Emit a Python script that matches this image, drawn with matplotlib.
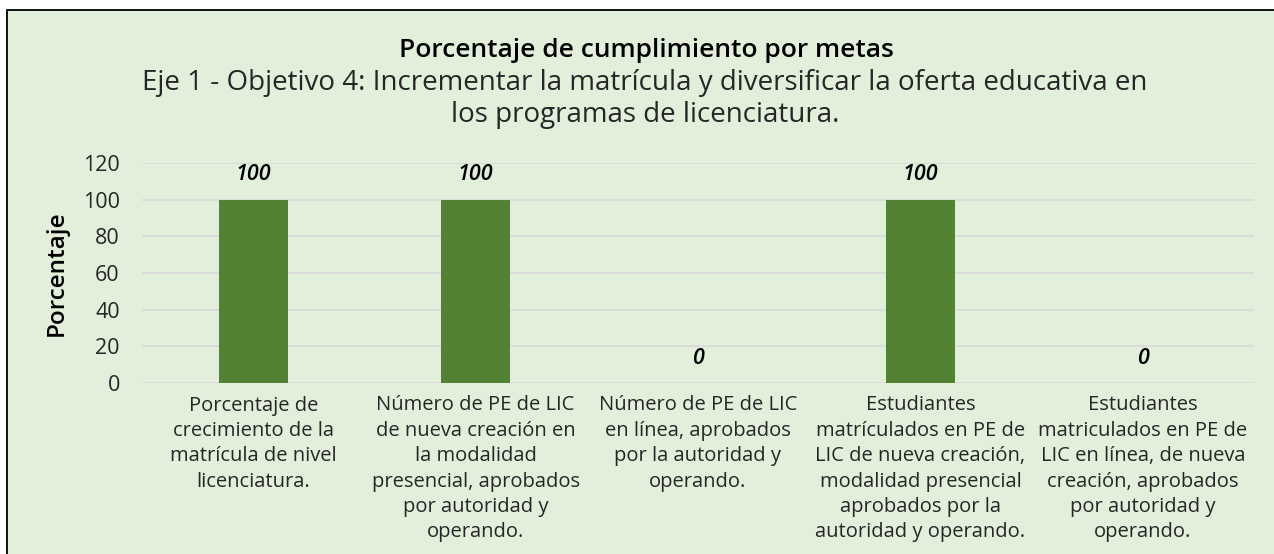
import matplotlib.pyplot as plt
from matplotlib.patches import Rectangle

# data: goals and completion percentage
metas = [
    'Porcentaje de\ncrecimiento de la\nmatrícula de nivel\nlicenciatura.',
    'Número de PE de LIC\nde nueva creación en\nla modalidad\npresencial, aprobados\npor autoridad y\noperando.',
    'Número de PE de LIC\nen línea, aprobados\npor la autoridad y\noperando.',
    'Estudiantes\nmatrículados en PE de\nLIC de nueva creación,\nmodalidad presencial\naprobados por la\nautoridad y operando.',
    'Estudiantes\nmatriculados en PE de\nLIC en línea, de nueva\ncreación, aprobados\npor autoridad y\noperando.',
]
cumplimiento = [100, 100, 0, 100, 0]
yticks = [0, 20, 40, 60, 80, 100, 120]

plt.rcParams['font.family'] = ['Open Sans', 'DejaVu Sans']

bg = '#E2EFDA'
fig = plt.figure(figsize=(12.74, 5.54), dpi=100, facecolor='white')

# chart frame (green panel with black border)
W, H = 1274, 554
fig.patches.append(Rectangle((7 / W, -0.01), 1.02, (H - 10) / H + 0.01,
                             transform=fig.transFigure, facecolor=bg,
                             edgecolor='black', linewidth=1.3, zorder=-10))

ax = fig.add_axes([142 / W, 1 - 383 / H, (1254 - 142) / W, (383 - 163) / H])
ax.patch.set_alpha(0)

x = range(len(metas))
ax.bar(x, cumplimiento, width=0.31, color='#548235', zorder=3)

for i, v in enumerate(cumplimiento):
    ax.text(i, v + 13.5, str(v), ha='center', va='center', fontsize=15.5,
            fontstyle='italic', fontweight='semibold', color='black')

ax.set_ylim(0, 120)
ax.set_xlim(-0.5, len(metas) - 0.5)
ax.set_yticks(yticks)
ax.set_yticklabels([str(t) for t in yticks], fontsize=15.5, color='#262626')
ax.set_xticks(list(x))
ax.set_xticklabels(metas, fontsize=14.5, color='#262626', linespacing=1.36, va='top')
ax.tick_params(axis='both', length=0)
ax.tick_params(axis='x', pad=9)
ax.tick_params(axis='y', pad=16)
ax.grid(axis='y', color='#D9D9D9', linewidth=1.2, zorder=0)
for s in ax.spines.values():
    s.set_visible(False)

fig.text(57 / W, 1 - 273 / H, 'Porcentaje', rotation=90, ha='center', va='center',
         fontsize=17.5, fontweight='semibold', color='black')

fig.text(646 / W, 1 - 57 / H, 'Porcentaje de cumplimiento por metas', ha='center',
         va='baseline', fontsize=19, fontweight='semibold', color='black')
fig.text(645 / W, 1 - 90 / H,
         'Eje 1 - Objetivo 4: Incrementar la matrícula y diversificar la oferta educativa en',
         ha='center', va='baseline', fontsize=20, color='#262626')
fig.text(645 / W, 1 - 122 / H, 'los programas de licenciatura.',
         ha='center', va='baseline', fontsize=20, color='#262626')

fig.savefig('out.png', dpi=100, facecolor='white')
